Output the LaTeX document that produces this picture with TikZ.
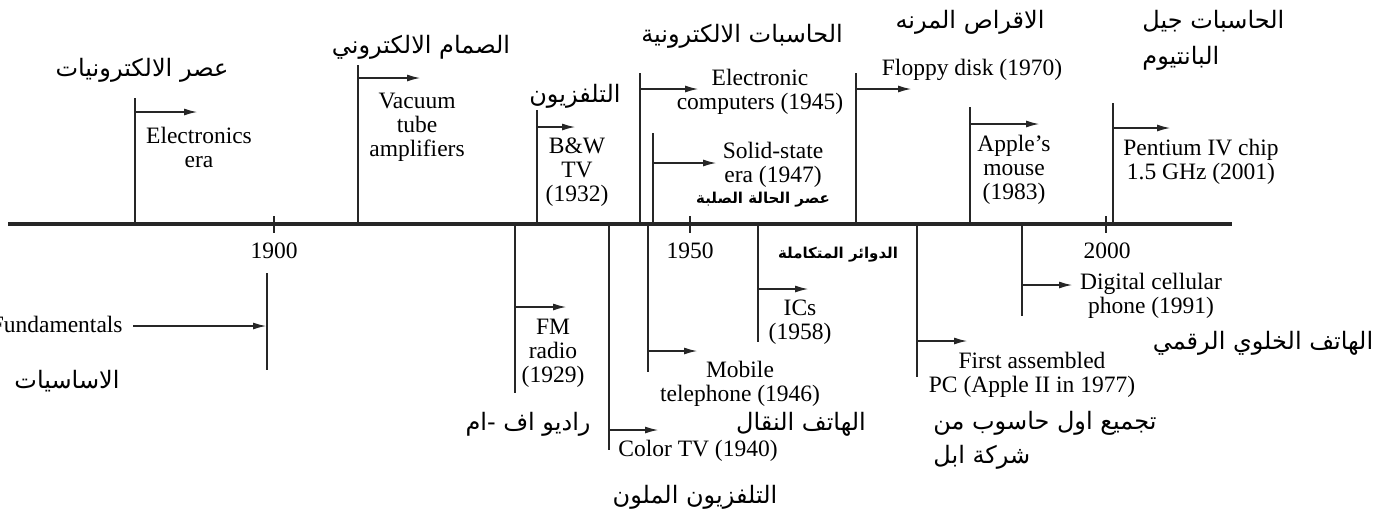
\documentclass[tikz,border=0pt]{standalone}
\usepackage{fontspec}
\setmainfont{Liberation Serif}
\newfontfamily\arabicfont[Script=Arabic]{DejaVu Sans}
\TeXXeTstate=1
\usetikzlibrary{arrows.meta}
\newcommand{\artxt}[1]{{\arabicfont\beginR #1\endR}}

\begin{document}
\begin{tikzpicture}[x=0.5pt,y=-0.5pt,
		axis/.style={line width=2pt,black!85},
		eraline/.style={line width=1pt,black!85},
		eraarrow/.style={line width=1pt,black!85,-{Latex[length=7pt,width=3.5pt]}},
		evtext/.style={align=center,font=\fontsize{11.75}{12}\selectfont,inner sep=0pt},
		artext/.style={font=\fontsize{12}{14}\selectfont,inner sep=0pt},
		arsmall/.style={font=\fontsize{7.5}{9}\selectfont\bfseries,inner sep=0pt}]
		\useasboundingbox (0,0) rectangle (1390,516);
		
		\draw[axis] (8,224) to (1232,224);
		\draw[eraline] (274,216) to (274,233);
		\draw[eraline] (690,216) to (690,233);
		\draw[eraline] (1106,216) to (1106,233);
		\node[evtext] (y1900) at (274,251) {1900};
		\node[evtext] (y1950) at (690,251) {1950};
		\node[evtext] (y2000) at (1107,251) {2000};
		
		\draw[eraline] (135,224) to (135,98);
		\draw[eraarrow] (135,112) to (198,112);
		\node[evtext] (elec) at (199,147) {Electronics\\era};
		\node[artext] (elecar) at (142,70) {\artxt{عصر الالكترونيات}};
		
		\draw[eraline] (358,224) to (358,65);
		\draw[eraarrow] (358,78) to (421,78);
		\node[evtext] (vacuum) at (417,127) {Vacuum\\tube\\amplifiers};
		\node[artext] (vacuumar) at (421,47) {\artxt{الصمام الالكتروني}};
		
		\draw[eraline] (537,224) to (537,110);
		\draw[eraarrow] (537,127) to (576,127);
		\node[evtext] (bwtv) at (577,172) {B\&W\\TV\\(1932)};
		\node[artext] (bwtvar) at (575,96) {\artxt{التلفزيون}};
		
		\draw[eraline] (640,224) to (640,73);
		\draw[eraarrow] (640,89) to (699,89);
		\node[evtext] (ecomp) at (760,92) {Electronic\\computers (1945)};
		\node[artext] (ecompar) at (742,36) {\artxt{الحاسبات الالكترونية}};
		
		\draw[eraline] (653,224) to (653,133);
		\draw[eraarrow] (653,163) to (717,163);
		\node[evtext] (solid) at (773,165) {Solid-state\\era (1947)};
		\node[arsmall] (solidar) at (763,200) {\artxt{عصر الحالة الصلبة}};
		
		\draw[eraline] (856,224) to (856,73);
		\draw[eraarrow] (856,89) to (912,89);
		\node[evtext] (floppy) at (972,70) {Floppy disk (1970)};
		\node[artext] (floppyar) at (970,22) {\artxt{الاقراص المرنه}};
		
		\draw[eraline] (970,224) to (970,107);
		\draw[eraarrow] (970,124) to (1040,124);
		\node[evtext] (mouse) at (1014,170) {Apple’s\\mouse\\(1983)};
		
		\draw[eraline] (1113,224) to (1113,103);
		\draw[eraarrow] (1113,128) to (1171,128);
		\node[evtext] (pentium) at (1201,162) {Pentium IV chip\\1.5 GHz (2001)};
		\node[artext,anchor=west] (pentiumar) at (1142,21) {\artxt{الحاسبات جيل}};
		\node[artext,anchor=west] (pentiumarb) at (1142,58) {\artxt{البانتيوم}};
		
		\draw[eraline] (267,273) to (267,370);
		\draw[eraarrow] (133,326) to (267,326);
		\node[evtext,anchor=east] (fund) at (123,324) {Fundamentals};
		\node[artext] (fundar) at (67,381) {\artxt{الاساسيات}};
		
		\draw[eraline] (515,224) to (515,393);
		\draw[eraarrow] (515,307) to (567,307);
		\node[evtext] (fm) at (553,353) {FM\\radio\\(1929)};
		\node[artext] (fmar) at (528,424) {\artxt{راديو اف -ام}};
		
		\draw[eraline] (609,224) to (609,450);
		\draw[eraarrow] (609,430) to (659,430);
		\node[evtext] (color) at (698,451) {Color TV (1940)};
		\node[artext] (colorar) at (695,497) {\artxt{التلفزيون الملون}};
		
		\draw[eraline] (648,224) to (648,372);
		\draw[eraarrow] (648,351) to (698,351);
		\node[evtext] (mobile) at (740,384) {Mobile\\telephone (1946)};
		\node[artext] (mobilear) at (801,424) {\artxt{الهاتف النقال}};
		
		\draw[eraline] (758,224) to (758,342);
		\draw[eraarrow] (758,289) to (809,289);
		\node[evtext] (ics) at (800,322) {ICs\\(1958)};
		\node[arsmall] (icsar) at (838,255) {\artxt{الدوائر المتكاملة}};
		
		\draw[eraline] (917,224) to (917,377);
		\draw[eraarrow] (917,341) to (968,341);
		\node[evtext] (pc) at (1032,375) {First assembled\\PC (Apple II in 1977)};
		\node[artext,anchor=west] (pcar) at (933,423) {\artxt{تجميع اول حاسوب من}};
		\node[artext,anchor=west] (pcarb) at (933,457) {\artxt{شركة ابل}};
		
		\draw[eraline] (1022,224) to (1022,316);
		\draw[eraarrow] (1022,285) to (1073,285);
		\node[evtext] (cell) at (1151,296) {Digital cellular\\phone (1991)};
		\node[artext] (cellar) at (1263,343) {\artxt{الهاتف الخلوي الرقمي}};
	\end{tikzpicture}
\end{document}
